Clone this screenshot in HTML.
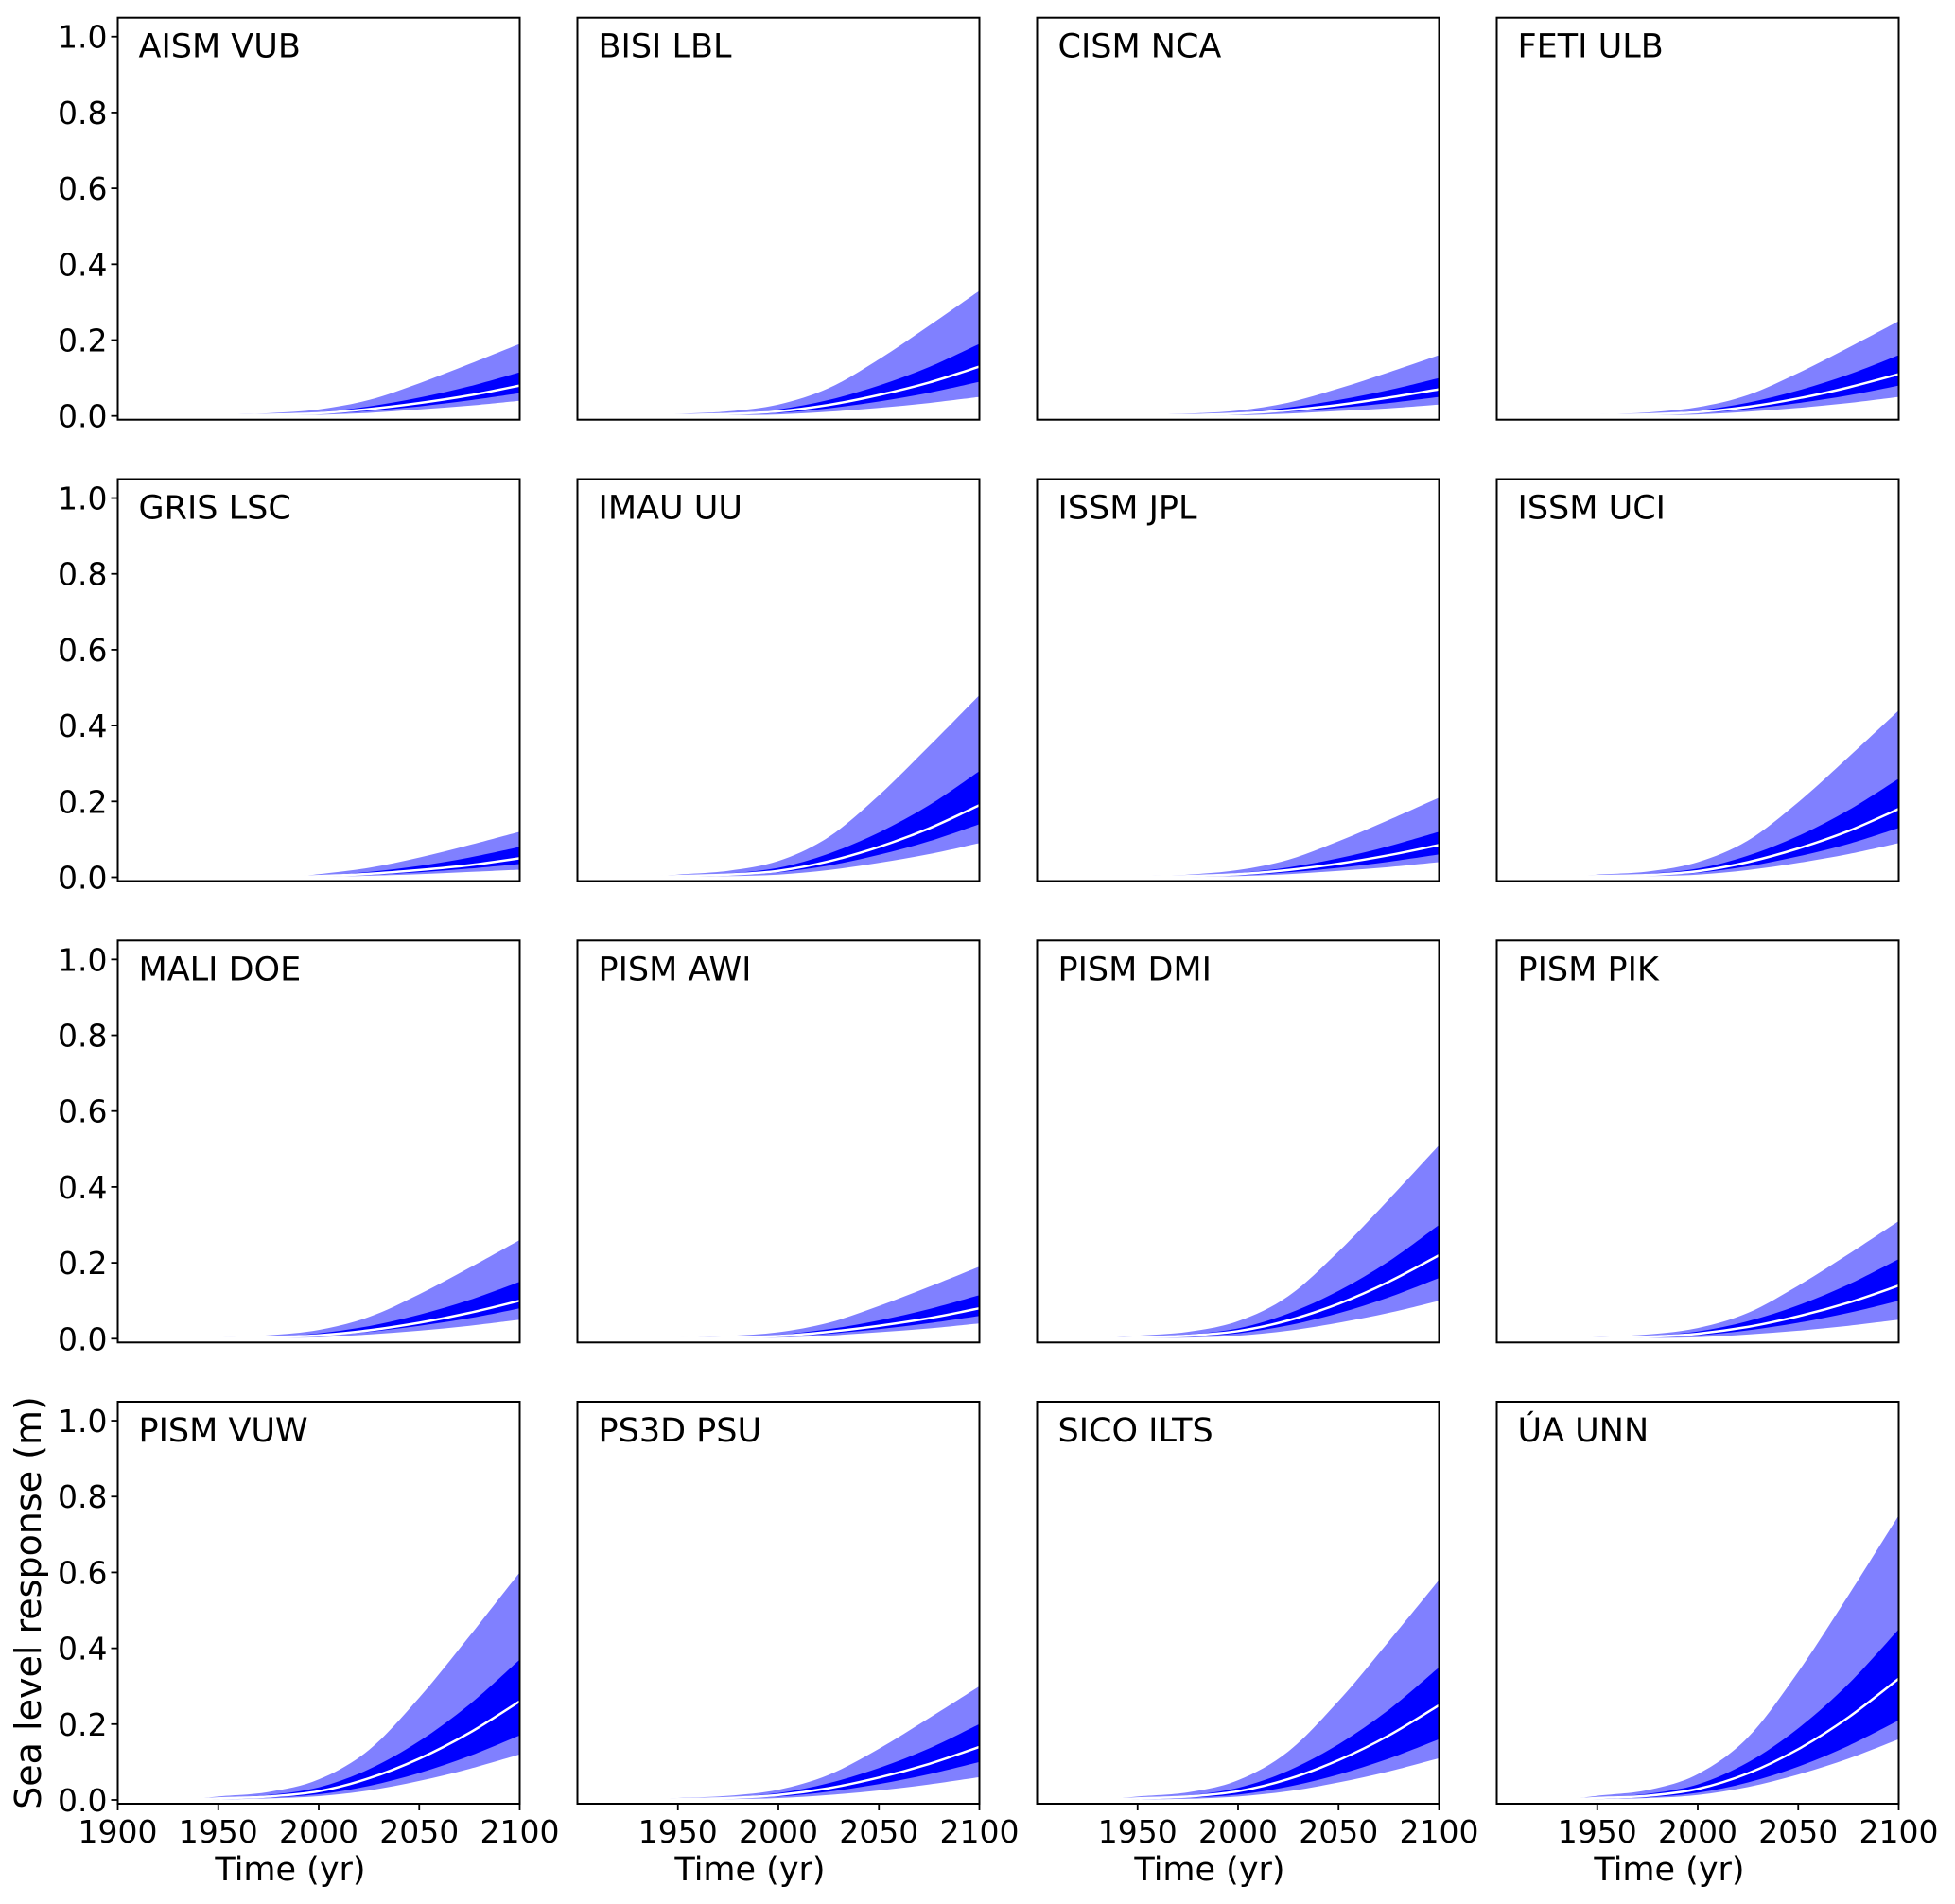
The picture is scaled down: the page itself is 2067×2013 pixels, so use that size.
<!DOCTYPE html>
<html><head><meta charset="utf-8"><style>
html,body{margin:0;padding:0;background:#fff;}
svg{display:block;}
text{font-family:"DejaVu Sans","Liberation Sans",sans-serif;fill:#000;}
</style></head><body>
<svg id="chart" width="2067" height="2013" viewBox="0 0 2067 2013" xmlns="http://www.w3.org/2000/svg"></svg>
<script>
const panelNames = ["AISM VUB","BISI LBL","CISM NCA","FETI ULB","GRIS LSC","IMAU UU","ISSM JPL","ISSM UCI","MALI DOE","PISM AWI","PISM DMI","PISM PIK","PISM VUW","PS3D PSU","SICO ILTS","ÚA UNN"];
const startYears = [1940,1945,1940,1940,1985,1930,1935,1935,1940,1940,1925,1935,1935,1935,1935,1935];
const sampleYears = [1950,1975,2000,2025,2050,2075,2100];
const outerHigh = [
 [.003,.007,.017,.042,.086,.137,.19],[.005,.012,.03,.073,.149,.238,.33],[.002,.006,.014,.035,.072,.115,.16],[.004,.009,.023,.055,.113,.18,.25],
 [0,0,.008,.025,.052,.085,.12],[.007,.017,.043,.106,.216,.346,.48],[.003,.007,.019,.046,.095,.151,.21],[.007,.015,.04,.097,.198,.317,.44],
 [.004,.009,.023,.057,.117,.187,.26],[.003,.007,.017,.042,.086,.137,.19],[.008,.018,.046,.112,.23,.367,.51],[.005,.011,.028,.068,.14,.223,.31],
 [.009,.021,.054,.132,.27,.432,.60],[.005,.011,.027,.066,.135,.216,.30],[.009,.02,.052,.128,.261,.418,.58],[.011,.026,.068,.165,.338,.54,.75]];
const innerHigh = [
 [.002,.004,.01,.025,.048,.078,.115],[.003,.007,.017,.042,.08,.129,.19],[.002,.004,.009,.022,.042,.068,.10],[.002,.006,.014,.035,.067,.109,.16],
 [0,0,.004,.014,.03,.052,.08],[.004,.01,.025,.062,.118,.19,.28],[.002,.004,.011,.026,.05,.082,.12],[.004,.009,.023,.057,.109,.177,.26],
 [.002,.005,.014,.033,.063,.102,.15],[.002,.004,.01,.025,.048,.078,.115],[.005,.011,.027,.066,.126,.204,.30],[.003,.007,.019,.046,.088,.143,.21],
 [.006,.013,.033,.081,.155,.252,.37],[.003,.007,.018,.044,.084,.136,.20],[.005,.012,.032,.077,.147,.238,.35],[.007,.016,.041,.099,.189,.306,.45]];
const medianVals = [
 [.001,.003,.007,.018,.034,.054,.08],[.002,.005,.012,.029,.055,.088,.13],[.001,.002,.006,.015,.029,.048,.07],[.002,.004,.01,.024,.046,.075,.11],
 [0,0,.003,.009,.019,.032,.05],[.003,.007,.017,.042,.08,.129,.19],[.001,.003,.008,.019,.036,.058,.085],[.003,.006,.016,.04,.076,.122,.18],
 [.002,.004,.009,.022,.042,.068,.10],[.001,.003,.007,.018,.034,.054,.08],[.003,.008,.02,.048,.092,.15,.22],[.002,.005,.013,.031,.059,.095,.14],
 [.004,.009,.023,.057,.109,.177,.26],[.002,.005,.013,.031,.059,.095,.14],[.004,.009,.023,.055,.105,.17,.25],[.005,.011,.029,.07,.134,.218,.32]];
const innerLow = [
 [.001,.002,.005,.013,.025,.041,.06],[.001,.003,.008,.02,.038,.061,.09],[.001,.002,.005,.011,.021,.034,.05],[.001,.003,.007,.018,.034,.054,.08],
 [0,0,.002,.006,.013,.023,.035],[.002,.005,.013,.031,.059,.095,.14],[.001,.002,.005,.013,.025,.041,.06],[.002,.005,.012,.029,.055,.088,.13],
 [.001,.003,.007,.018,.034,.054,.08],[.001,.002,.005,.013,.025,.041,.06],[.002,.006,.014,.035,.067,.109,.16],[.002,.004,.009,.022,.042,.068,.10],
 [.003,.006,.015,.037,.071,.116,.17],[.002,.004,.009,.022,.042,.068,.10],[.002,.006,.014,.035,.067,.109,.16],[.003,.007,.019,.046,.088,.143,.21]];
const outerLow = [
 [0,.001,.003,.008,.017,.027,.04],[.001,.002,.004,.011,.021,.034,.05],[0,.001,.002,.006,.013,.02,.03],[.001,.002,.004,.011,.021,.034,.05],
 [0,0,.001,.004,.008,.014,.02],[.001,.003,.007,.019,.038,.061,.09],[0,.001,.003,.008,.017,.027,.04],[.001,.003,.007,.019,.038,.061,.09],
 [.001,.002,.004,.011,.021,.034,.05],[0,.001,.003,.008,.017,.027,.04],[.001,.003,.008,.021,.042,.068,.10],[.001,.002,.004,.011,.021,.034,.05],
 [.001,.004,.01,.025,.05,.082,.12],[.001,.002,.005,.013,.025,.041,.06],[.001,.003,.009,.023,.046,.075,.11],[.002,.005,.013,.034,.067,.109,.16]];
const yTicks = [0,0.2,0.4,0.6,0.8,1.0];
const yTickLabels = ["0.0","0.2","0.4","0.6","0.8","1.0"];
const xTicksFirst = [1900,1950,2000,2050,2100];
const xTicksOther = [1950,2000,2050,2100];

const NS = "http://www.w3.org/2000/svg";
const svg = document.getElementById("chart");
const W = 425, H = 425, colX = [124.5,610.5,1096.5,1582.5], rowY = [18.7,506.5,994.3,1482];
const X0 = 1900, X1 = 2100, Y0 = -0.01, Y1 = 1.05;
function mk(tag, attrs, parent){ const e = document.createElementNS(NS, tag); for (const k in attrs) e.setAttribute(k, attrs[k]); (parent||svg).appendChild(e); return e; }

panelNames.forEach((name, i) => {
  const r = Math.floor(i/4), c = i%4, L = colX[c], T = rowY[r];
  const sx = v => L + (v - X0) / (X1 - X0) * W;
  const sy = v => T + H - (v - Y0) / (Y1 - Y0) * H;
  const g = mk("g", {});
  
  
  const yrs = [startYears[i]], idx = [];
  sampleYears.forEach((y, k) => { if (y > startYears[i]) { yrs.push(y); idx.push(k); } });
  const series = arr => [0].concat(idx.map(k => arr[i][k]));
  const oh = series(outerHigh), ih = series(innerHigh), md = series(medianVals), il = series(innerLow), ol = series(outerLow);
  const smooth = (pts) => { let d = "M"+pts[0][0].toFixed(1)+","+pts[0][1].toFixed(1);
    for (let k=0;k<pts.length-1;k++){ const p0=pts[Math.max(0,k-1)],p1=pts[k],p2=pts[k+1],p3=pts[Math.min(pts.length-1,k+2)];
      d += "C"+(p1[0]+(p2[0]-p0[0])/6).toFixed(1)+","+(p1[1]+(p2[1]-p0[1])/6).toFixed(1)+" "+(p2[0]-(p3[0]-p1[0])/6).toFixed(1)+","+(p2[1]-(p3[1]-p1[1])/6).toFixed(1)+" "+p2[0].toFixed(1)+","+p2[1].toFixed(1); }
    return d; };
  const bandS = (hi, lo) => { const a = yrs.map((y,k)=>[sx(y),sy(hi[k])]); const b = yrs.map((y,k)=>[sx(y),sy(lo[k])]).reverse();
    return smooth(a) + "L" + smooth(b).slice(1) + "Z"; };
  const o = mk("path", {d: bandS(oh, ol), fill: "#8080ff", stroke: "none"}, g);
  
  
  const n = mk("path", {d: bandS(ih, il), fill: "#0000ff", stroke: "none"}, g);
  
  
  const m = mk("path", {d: smooth(yrs.map((y,k)=>[sx(y),sy(md[k])])), fill: "none", stroke: "#fff", "stroke-width": 2.5}, g);
  
  
  const fr = mk("rect", {x: L, y: T, width: W, height: H, fill: "none", stroke: "#000", "stroke-width": 2}, g);
  
  
  const t = mk("text", {x: L + 22, y: T + 42, "font-size": 35}, g);
  t.textContent = name;
  
  
  if (c === 0) {
    yTicks.forEach((v, k) => {
      mk("line", {x1: L-7, x2: L, y1: sy(v), y2: sy(v), stroke: "#000", "stroke-width": 1.8}, g);
      const tl = mk("text", {x: L-11, y: sy(v)+12, "font-size": 33, "text-anchor": "end"}, g);
      tl.textContent = yTickLabels[k];
      
      
    });
  }
  if (r === 3) {
    (c === 0 ? xTicksFirst : xTicksOther).forEach(v => {
      mk("line", {x1: sx(v), x2: sx(v), y1: T+H, y2: T+H+7, stroke: "#000", "stroke-width": 1.8}, g);
      const tl = mk("text", {x: sx(v), y: T+H+41, "font-size": 33, "text-anchor": "middle"}, g);
      tl.textContent = String(v);
      
      
    });
    const xl = mk("text", {x: L + W/2 - 30, y: T+H+81, "font-size": 35, "text-anchor": "middle"}, g);
    xl.textContent = "Time (yr)";
    
    
  }
});
const yl = mk("text", {x: 0, y: 0, "font-size": 38, "text-anchor": "middle", transform: "translate(43," + (rowY[3]+H/2) + ") rotate(-90)"});
yl.textContent = "Sea level response (m)";


</script>
</body></html>
